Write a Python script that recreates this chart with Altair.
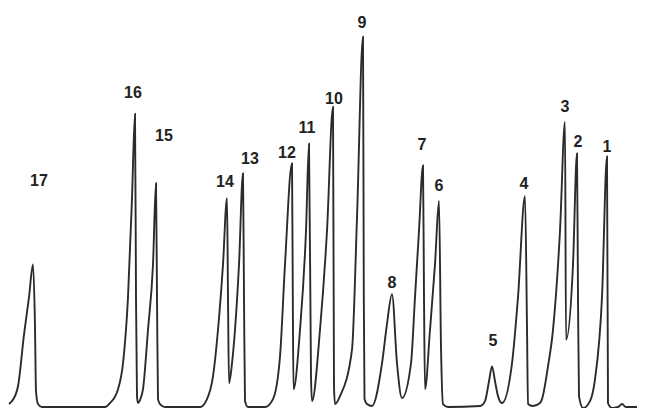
import altair as alt
import pandas as pd

# Chromatogram trace (retention position, detector signal)
trace_x = [9, 12, 18, 24, 29, 33, 35, 36, 38, 42,
           105, 110, 118, 123, 128, 132, 135, 136, 137, 138,
           140, 143, 148, 153, 156, 157, 158, 160, 165,
           200, 207, 213, 218, 223, 227, 228, 229, 232, 235, 239, 243, 244, 245, 248,
           265, 273, 280, 285, 292, 292.8, 293.5, 300, 306, 309, 311, 312,
           320, 327, 333, 334, 335, 340, 352, 357, 363, 363.8, 364.5, 367, 372,
           382, 387, 392, 397, 402, 411, 415, 419, 423, 424, 425,
           430, 435, 439, 441, 443, 448, 480, 485, 489, 492, 495, 498, 502,
           512, 518, 525, 527, 528, 533, 540, 542, 548, 553, 560, 565, 566,
           573, 577, 578, 579, 583, 590, 595, 602, 607, 608, 612, 618, 622, 626, 645]
trace_y = [4, 7, 22, 74, 112, 145, 82, 17, 4, 1,
           1, 5, 19, 45, 112, 212, 297, 112, 12, 5,
           8, 19, 79, 145, 227, 112, 9, 4, 1,
           1, 9, 32, 79, 145, 212, 112, 25, 45, 79, 145, 237, 112, 7, 1,
           1, 9, 52, 145, 247, 112, 19, 79, 179, 267, 32, 7,
           79, 179, 304, 22, 4, 12, 59, 192, 375, 112, 9, 4, 2,
           45, 85, 115, 45, 10, 45, 112, 179, 245, 112, 19,
           79, 145, 209, 62, 4, 1, 2, 7, 27, 42, 27, 12, 5,
           45, 112, 214, 82, 4, 2, 5, 9, 42, 79, 179, 289, 69,
           145, 257, 112, 12, 0, 7, 29, 112, 254, 5, 0, 1, 4, 1, 1]

# Peak labels
label_text = ["1", "2", "3", "4", "5", "6", "7", "8", "9",
              "10", "11", "12", "13", "14", "15", "16", "17"]
label_x = [607, 578, 565, 524, 493, 439, 422, 392, 362,
           334, 307, 287, 250, 225, 164, 133, 39]
label_y = [264, 269, 304, 226, 68, 224, 266, 126, 389,
           312, 283, 258, 251, 228, 275, 318, 229]

trace = pd.DataFrame({"t": trace_x, "s": trace_y, "order": range(len(trace_x))})
labels = pd.DataFrame({"label": label_text, "t": label_x, "s": label_y})

xs = alt.Scale(domain=[8, 637], nice=False, zero=False)
ys = alt.Scale(domain=[0, 404], nice=False, zero=False)

line = alt.Chart(trace).mark_line(
    color="#2b2b2b", strokeWidth=1.9, interpolate="monotone"
).encode(
    x=alt.X("t:Q", scale=xs, axis=None),
    y=alt.Y("s:Q", scale=ys, axis=None),
    order="order:Q",
)

text = alt.Chart(labels).mark_text(
    font="Liberation Sans", fontWeight="bold", fontSize=16,
    color="#222222", baseline="middle", align="center"
).encode(
    x=alt.X("t:Q", scale=xs, axis=None),
    y=alt.Y("s:Q", scale=ys, axis=None),
    text="label:N",
)

chart = (line + text).properties(
    width=629, height=400, padding=0, background="white",
    autosize=alt.AutoSizeParams(type="none")
).configure_view(stroke=None)

chart.save("out.html", embed_options={"renderer": "svg", "actions": False})
